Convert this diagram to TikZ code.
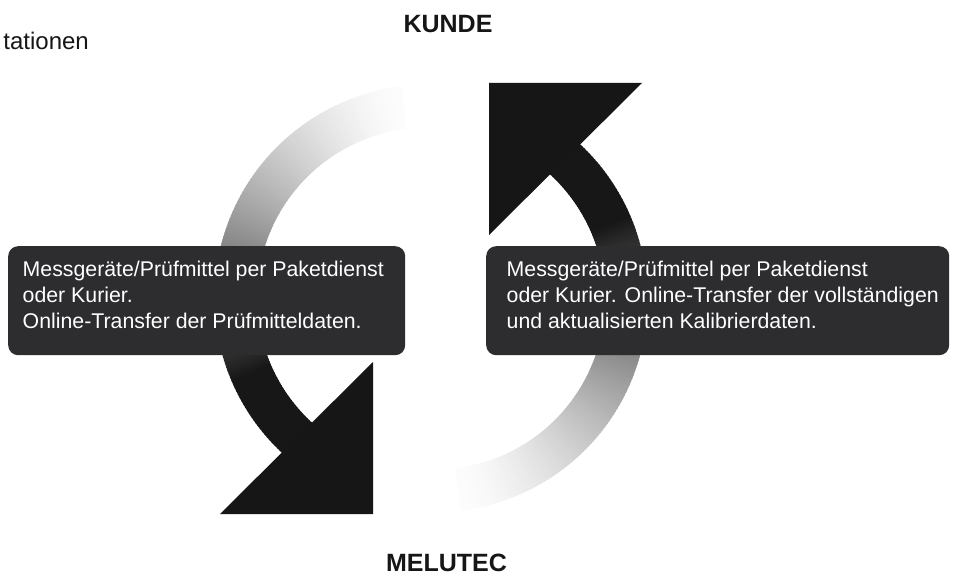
\documentclass[tikz,border=0pt]{standalone}
\usepackage{fontspec}
\setmainfont{Liberation Sans}
\definecolor{boxc}{RGB}{45,44,47}
\definecolor{inkc}{RGB}{22,22,22}
\tikzset{
  turnarrow/.pic={
    \foreach \a in {97,98,...,228}{
      \pgfmathsetmacro{\t}{min(1,(\a-97)/106)}
      \pgfmathsetmacro{\d}{1+90*\t*sqrt(\t)}
      \pgfmathsetmacro{\b}{\a+1.4}
      \fill[black!\d] ([shift={(\a:212.5)}]427,-297.5) arc[start angle=\a, end angle=\b, radius=212.5]
        -- ([shift={(\b:170)}]427,-297.5) arc[start angle=\b, end angle=\a, radius=170] -- cycle;
    }
    \fill[inkc] (220,-514) -- (373,-514) -- (373,-362) -- cycle;
  }
}
\begin{document}
\begin{tikzpicture}[x=1pt,y=1pt,
  infobox/.style={fill=boxc, rounded corners=10pt, draw=none, inner sep=0pt, anchor=north west},
  boxtext/.style={text=white, font=\fontsize{21.3}{26}\selectfont, anchor=base west, inner sep=0pt},
  titletext/.style={font=\fontsize{25}{30}\selectfont\bfseries, anchor=base, inner sep=0pt, text=inkc}
]
\useasboundingbox (0,0) rectangle (956,-577);
\fill[white] (0,0) rectangle (956,-577);

% arrows
\pic at (0,0) {turnarrow};
\pic[rotate=180] at (862,-597) {turnarrow};

% boxes
\node[infobox, minimum width=397pt, minimum height=109pt] (lbox) at (8,-246) {};
\node[infobox, minimum width=463pt, minimum height=109pt] (rbox) at (486,-246) {};

\node[boxtext] (l1) at (22.5,-277) {Messgeräte/Prüfmittel per Paketdienst};
\node[boxtext] (l2) at (22.5,-303) {oder Kurier.};
\node[boxtext] (l3) at (22.5,-329) {Online-Transfer der Prüfmitteldaten.};

\node[boxtext] (r1) at (506.5,-277) {Messgeräte/Prüfmittel per Paketdienst};
\node[boxtext] (r2) at (506.5,-303) {oder Kurier. Online-Transfer der vollständigen};
\node[boxtext] (r3) at (506.5,-329) {und aktualisierten Kalibrierdaten.};

% titles
\node[titletext] (kunde) at (448,-32.3) {KUNDE};
\node[titletext] (melutec) at (446.5,-571.5) {MELUTEC};
\node[font=\fontsize{24}{28}\selectfont, anchor=base east, inner sep=0pt, text=inkc] (tat) at (89,-50) {tationen};
\end{tikzpicture}
\end{document}
